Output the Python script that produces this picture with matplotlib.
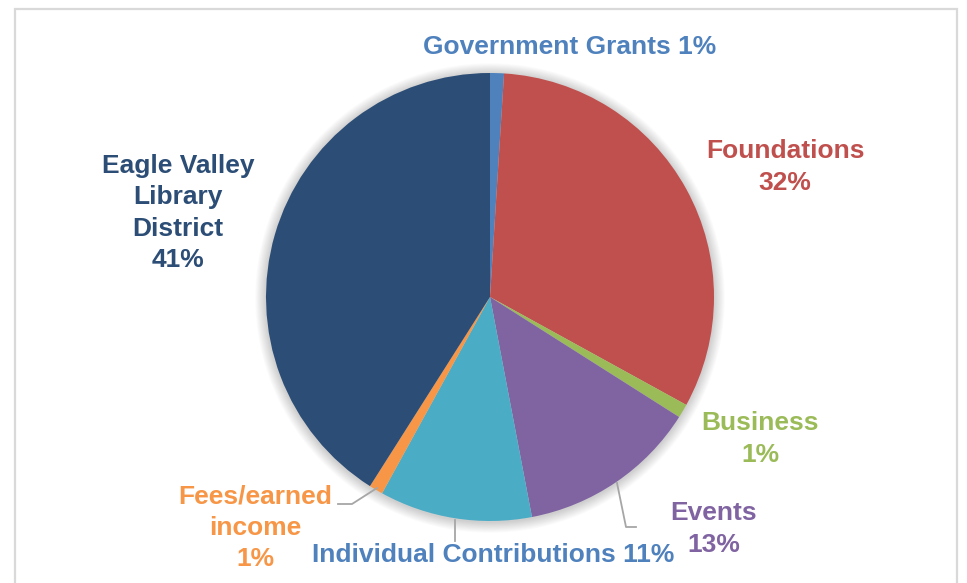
import matplotlib
matplotlib.use("Agg")
import matplotlib.pyplot as plt
from matplotlib.patches import Rectangle, Circle

categories = ["Government Grants", "Foundations", "Business", "Events",
              "Individual Contributions", "Fees/earned income",
              "Eagle Valley Library District"]
values = [1, 32, 1, 13, 11, 1, 41]
colors = ["#4F81BD", "#C0504D", "#9BBB59", "#8064A2", "#4BACC6", "#F79646", "#2C4D75"]
label_texts = ["Government Grants 1%", "Foundations\n32%", "Business\n1%", "Events\n13%",
               "Individual Contributions 11%", "Fees/earned\nincome\n1%",
               "Eagle Valley\nLibrary\nDistrict\n41%"]
text_colors = ["#4F81BD", "#C0504D", "#9BBB59", "#8064A2", "#4F81BD", "#F79646", "#2C4D75"]

W, H = 967, 583
fig = plt.figure(figsize=(W / 100, H / 100), dpi=100)
ax = fig.add_axes([0, 0, 1, 1])
ax.set_xlim(0, W)
ax.set_ylim(0, H)
ax.set_aspect("equal")
ax.axis("off")

def Y(py):
    return H - py

# frame
ax.add_patch(Rectangle((15, -5), 942, Y(9) + 5, fill=False, edgecolor="#d9d9d9", lw=1.6, zorder=0))

cx, cy, r = 490, Y(297), 224
# soft shadow
for k in range(12, 0, -1):
    ax.add_patch(Circle((cx, cy - 1), r + k * 0.9, color="#000000", alpha=0.014, lw=0, zorder=1))

ax.pie(values, colors=colors, startangle=90, counterclock=False,
       center=(cx, cy), radius=r, frame=True,
       wedgeprops=dict(linewidth=0, zorder=2))
ax.set_xlim(0, W)
ax.set_ylim(0, H)
ax.axis("off")

positions = [(570, 47), (785, 167), (760, 439), (714, 529), (493, 555), (255, 528), (178, 213)]
font = dict(family=["Liberation Sans", "DejaVu Sans"], fontweight="bold", fontsize=19)
for txt, col, (px, py) in zip(label_texts, text_colors, positions):
    ax.text(px, Y(py), txt, color=col, ha="center", va="center",
            linespacing=1.38, zorder=5, **font)

# leader lines
lc = "#a6a6a6"
ax.plot([377, 352, 338], [Y(488), Y(504), Y(504)], color=lc, lw=1.3, zorder=4)
ax.plot([455, 455], [Y(520), Y(541)], color=lc, lw=1.3, zorder=4)
ax.plot([617, 626, 636], [Y(483), Y(527), Y(527)], color=lc, lw=1.3, zorder=4)

fig.savefig("out.png", dpi=100)
